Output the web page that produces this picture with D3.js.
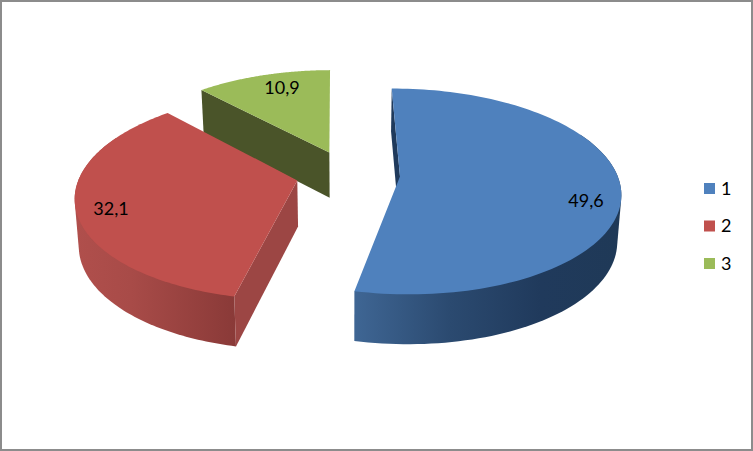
<!DOCTYPE html>
<html><head><meta charset="utf-8">
<script src="https://cdn.jsdelivr.net/npm/d3@7/dist/d3.min.js"></script>
<style>html,body{margin:0;padding:0;background:#fff}svg{display:block}text{font-family:Lato,"Open Sans",sans-serif;fill:#000}</style>
</head><body><svg id="c" width="753" height="451"></svg>
<script>
const categories = ["1","2","3"];
const values = [49.6,32.1,10.9];
const labels = ["49,6","32,1","10,9"];
const topColors = ["#4f81bd","#c0504d","#9bbb59"];
const W=753,H=451;
const svg=d3.select("#c");
svg.append("rect").attr("x",1).attr("y",1).attr("width",W-2).attr("height",H-2).attr("fill","#fff").attr("stroke","#8c8c8c").attr("stroke-width",2);

const rot=-0.5*Math.PI/180;
const arcs=d3.pie().sort(null).startAngle(rot).endAngle(rot+2*Math.PI)(values);

// projection of the tilted disc
const vx=348,vy=174,Rp=217,Kp=100,persp=0.145,explode=0.24,depth=46;
const sx=d3.scaleLinear().domain([0,1]).range([0,Rp]);
const sy=d3.scaleLinear().domain([0,1]).range([0,Kp]);
function project(X,Y,z){
  const s=1/(1+persp*Y), f=z?0.985:1;
  return [vx+sx(X)*s*f, vy-sy(Y)*s+(z?depth*Math.sqrt(s):0)];
}
function world(a,th,r){
  const m=(a.startAngle+a.endAngle)/2;
  return [explode*Math.sin(m)+r*Math.sin(th), explode*Math.cos(m)+r*Math.cos(th)];
}
const P=(a,th,r,z)=>{const w=world(a,th,r);return project(w[0],w[1],z);};
const line=d3.line();
const N=120;
const thetaAt=(a,k)=>a.startAngle+(a.endAngle-a.startAngle)*k/N;
const rim=(a,z)=>d3.range(0,N+1).map(k=>P(a,thetaAt(a,k),1,z));

const defs=svg.append("defs");
function grad(id,x1,x2,stops){
  const g=defs.append("linearGradient").attr("id",id).attr("gradientUnits","userSpaceOnUse")
    .attr("x1",x1).attr("x2",x2).attr("y1",0).attr("y2",0);
  stops.forEach(s=>g.append("stop").attr("offset",s[0]).attr("stop-color",s[1]));
}
grad("w0",354,620,[[0,"#3f6694"],[0.36,"#2b4a70"],[0.7,"#203a5c"],[1,"#1f3957"]]);
grad("w1",75,235,[[0,"#b04f4c"],[0.35,"#a84b48"],[1,"#8a3a38"]]);
const wallFill=["url(#w0)","url(#w1)",null];
const faceFill=["#1f3a5c","#9c4644","#4a5429"];

[2,1,0].forEach(i=>{
  const a=arcs[i];
  const g=svg.append("g");
  const top=rim(a,false), bot=rim(a,true);
  if(wallFill[i]){
    // silhouette of the front-facing rim swept downward; the top face covers the rest
    const idx=d3.range(0,N+1).filter(k=>Math.cos(thetaAt(a,k))<0.45);
    const hull=d3.polygonHull(idx.map(k=>top[k]).concat(idx.map(k=>bot[k])));
    g.append("path").attr("d",line(hull)+"Z").attr("fill",wallFill[i]);
  }
  const th=a.startAngle;
  const apexT=P(a,0,0,false), apexB=P(a,0,0,true), rT=P(a,th,1,false), rB=P(a,th,1,true);
  g.append("path").attr("d",line([apexT,rT,rB,apexB])+"Z").attr("fill",faceFill[i]);
  g.append("path").attr("d",line([apexT].concat(top))+"Z").attr("fill",topColors[i]);
});

const labelAt=[[586,201],[111,209],[282,88]];
labels.forEach((t,i)=>svg.append("text").attr("x",labelAt[i][0]).attr("y",labelAt[i][1]).attr("dy","0.35em").attr("text-anchor","middle").attr("font-size",18).text(t));

const ly=d3.scalePoint().domain(categories).range([188.5,263.5]);
const lg=svg.selectAll("g.l").data(categories).join("g").attr("class","l").attr("transform",d=>`translate(704,${ly(d)})`);
lg.append("rect").attr("x",0).attr("y",-5.5).attr("width",11).attr("height",11).attr("fill",(d,i)=>topColors[i]);
lg.append("text").attr("x",17).attr("y",0).attr("dy","0.35em").attr("font-size",18).text(d=>d);
</script></body></html>
